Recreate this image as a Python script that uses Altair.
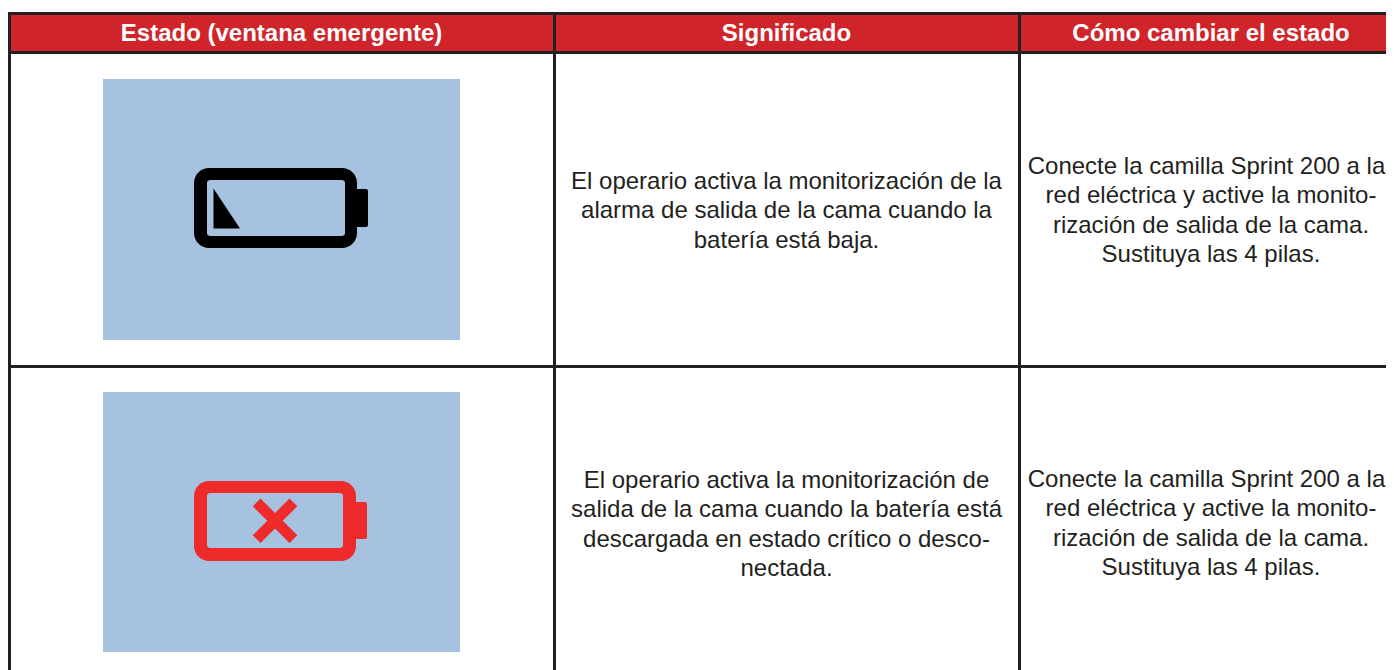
import altair as alt
import pandas as pd

# Table geometry, in reference pixels; the drawing can hold 1378 px across
page_x = [8, 1386]
page_y = [8, 670]

header_titles = ["Estado (ventana emergente)", "Significado", "Cómo cambiar el estado"]
col_centers = [281.5, 786.5, 1211]

red_fill = "#d0242b"
line_dark = "#231f20"
panel_blue = "#a7c1e0"
batt_red = "#ee2a2b"
batt_black = "#000000"

header_box = [(8, 1386, 15, 51, red_fill)]
grid_lines = [
    (8, 1386, 12, 15, line_dark),
    (8, 1386, 51, 54, line_dark),
    (8, 1386, 365, 368, line_dark),
    (8, 11, 12, 670, line_dark),
    (553, 556, 12, 670, line_dark),
    (1018, 1021, 12, 670, line_dark),
]
panels = [(103, 460, 79, 340, panel_blue), (103, 460, 392, 652, panel_blue)]

batt_outer = [(194, 357, 168, 248, batt_black), (194, 356, 481, 561, batt_red)]
batt_inner = [(207, 345, 180, 236, panel_blue), (207, 343, 493, 548, panel_blue)]
batt_caps = [(355, 368, 189, 227, batt_black), (354, 367, 502, 539, batt_red)]

tri_x = [213.5, 240]
tri_top = [188.5, 228.5]
tri_bottom = [228.5, 228.5]

cross_a_x = [260.5, 289.5]
cross_a_y = [506.3, 535.3]
cross_b_x = [260.5, 289.5]
cross_b_y = [535.3, 506.3]

line_gap = 29.4
col3_first_line_center = 1206.5
body_rows = [
    (col_centers[1], 182, ["El operario activa la monitorización de la",
                           "alarma de salida de la cama cuando la",
                           "batería está baja."]),
    (col_centers[2], 167, ["Conecte la camilla Sprint 200 a la",
                           "red eléctrica y active la monito-",
                           "rización de salida de la cama.",
                           "Sustituya las 4 pilas."]),
    (col_centers[1], 481, ["El operario activa la monitorización de",
                           "salida de la cama cuando la batería está",
                           "descargada en estado crítico o desco-",
                           "nectada."]),
    (col_centers[2], 480, ["Conecte la camilla Sprint 200 a la",
                           "red eléctrica y active la monito-",
                           "rización de salida de la cama.",
                           "Sustituya las 4 pilas."]),
]

FONT = "Liberation Sans"
xs = alt.Scale(domain=page_x, range=[0, page_x[1] - page_x[0]], nice=False, zero=False)
ys = alt.Scale(domain=page_y, range=[0, page_y[1] - page_y[0]], nice=False, zero=False)


def boxes(rows, **mark):
    df = pd.DataFrame(rows, columns=["x0", "x1", "y0", "y1", "c"])
    return alt.Chart(df).mark_rect(**mark).encode(
        x=alt.X("x0:Q", scale=xs, axis=None),
        x2="x1:Q",
        y=alt.Y("y0:Q", scale=ys, axis=None),
        y2="y1:Q",
        color=alt.Color("c:N", scale=None),
    )


def cross_arm(px, py):
    df = pd.DataFrame({"x": px, "y": py})
    return alt.Chart(df).mark_line(color=batt_red, strokeWidth=11, strokeCap="square").encode(
        x=alt.X("x:Q", scale=xs, axis=None),
        y=alt.Y("y:Q", scale=ys, axis=None),
    )


tri_df = pd.DataFrame({"x": tri_x, "t": tri_top, "b": tri_bottom})
triangle = alt.Chart(tri_df).mark_area(color=batt_black, opacity=1).encode(
    x=alt.X("x:Q", scale=xs, axis=None),
    y=alt.Y("t:Q", scale=ys, axis=None),
    y2="b:Q",
)

head_df = pd.DataFrame({"x": col_centers, "y": [34, 34, 34], "t": header_titles})
head_text = alt.Chart(head_df).mark_text(
    font=FONT, fontSize=24, fontWeight="bold", color="#ffffff", baseline="middle", align="center"
).encode(
    x=alt.X("x:Q", scale=xs, axis=None),
    y=alt.Y("y:Q", scale=ys, axis=None),
    text="t:N",
)

body_records = []
for cx, top, lines in body_rows:
    for i, line in enumerate(lines):
        x = col3_first_line_center if line.startswith("Conecte") else cx
        body_records.append({"x": x, "y": top + i * line_gap, "t": line})
body_text = alt.Chart(pd.DataFrame(body_records)).mark_text(
    font=FONT, fontSize=24, color=line_dark, baseline="middle", align="center"
).encode(
    x=alt.X("x:Q", scale=xs, axis=None),
    y=alt.Y("y:Q", scale=ys, axis=None),
    text="t:N",
)

chart = alt.layer(
    boxes(header_box),
    boxes(panels),
    boxes(batt_caps, cornerRadius=2),
    boxes(batt_outer, cornerRadius=15),
    boxes(batt_inner, cornerRadius=3),
    triangle,
    cross_arm(cross_a_x, cross_a_y),
    cross_arm(cross_b_x, cross_b_y),
    boxes(grid_lines),
    head_text,
    body_text,
).properties(
    width=page_x[1] - page_x[0],
    height=page_y[1] - page_y[0],
    padding=0,
    autosize=alt.AutoSizeParams(type="none", contains="content"),
    background="#ffffff",
).configure_view(strokeWidth=0)

chart.save("out.html", embed_options={"renderer": "svg", "actions": False})
